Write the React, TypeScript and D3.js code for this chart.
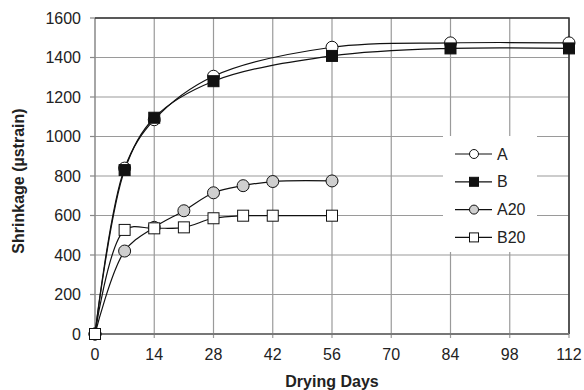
import { useRef, useEffect } from 'react';
import * as d3 from 'd3';

const days = [0, 7, 14, 28, 56, 84, 112];
const seriesA = [0, 840, 1085, 1305, 1452, 1474, 1474];
const seriesB = [0, 830, 1095, 1280, 1408, 1446, 1446];

const days20 = [0, 7, 14, 21, 28, 35, 42, 56];
const seriesA20 = [0, 420, 540, 624, 715, 751, 772, 775];
const seriesB20 = [0, 527, 535, 540, 586, 599, 599, 599];

const xTicks = [0, 14, 28, 42, 56, 70, 84, 98, 112];
const yTicks = [0, 200, 400, 600, 800, 1000, 1200, 1400, 1600];

const legendNames = ['A', 'B', 'A20', 'B20'];

export default function App() {
    const svgRef = useRef<SVGSVGElement>(null);

    useEffect(() => {
        if (!svgRef.current) return;
        const width = 584;
        const height = 390;
        const margin = { top: 18, right: 15, bottom: 56, left: 95 };

        d3.select(svgRef.current).selectAll('*').remove();
        const svg = d3.select(svgRef.current)
            .attr('width', width)
            .attr('height', height)
            .style('font-family', '"Liberation Sans", Arial, sans-serif');

        svg.append('rect').attr('width', width).attr('height', height).attr('fill', '#fff');

        const chartWidth = width - margin.left - margin.right;
        const chartHeight = height - margin.top - margin.bottom;

        const g = svg.append('g')
            .attr('transform', `translate(${margin.left},${margin.top})`);

        const x = d3.scaleLinear().domain([0, 112]).range([0, chartWidth]);
        const y = d3.scaleLinear().domain([0, 1600]).range([chartHeight, 0]);

        // Grid
        g.selectAll('.hgrid')
            .data(yTicks.slice(1))
            .enter()
            .append('line')
            .attr('x1', 0)
            .attr('x2', chartWidth)
            .attr('y1', d => y(d))
            .attr('y2', d => y(d))
            .attr('stroke', '#9a9a9a')
            .attr('stroke-width', 1.2);

        g.selectAll('.vgrid')
            .data(xTicks.slice(1))
            .enter()
            .append('line')
            .attr('x1', d => x(d))
            .attr('x2', d => x(d))
            .attr('y1', 0)
            .attr('y2', chartHeight + 4)
            .attr('stroke', '#9a9a9a')
            .attr('stroke-width', 1.2);

        // Y axis (left)
        g.append('line')
            .attr('x1', 0).attr('x2', 0)
            .attr('y1', 0).attr('y2', chartHeight)
            .attr('stroke', '#888')
            .attr('stroke-width', 1.5);
        g.selectAll('.ytick')
            .data(yTicks)
            .enter()
            .append('line')
            .attr('x1', -5).attr('x2', 0)
            .attr('y1', d => y(d)).attr('y2', d => y(d))
            .attr('stroke', '#888')
            .attr('stroke-width', 1.2);
        g.append('line')
            .attr('x1', 0).attr('x2', 0)
            .attr('y1', chartHeight).attr('y2', chartHeight + 4)
            .attr('stroke', '#888')
            .attr('stroke-width', 1.2);

        // Top + right border
        g.append('path')
            .attr('d', `M0,0H${chartWidth}V${chartHeight}`)
            .attr('fill', 'none')
            .attr('stroke', '#333')
            .attr('stroke-width', 1.5);

        // Bottom axis
        g.append('line')
            .attr('x1', 0).attr('x2', chartWidth)
            .attr('y1', chartHeight).attr('y2', chartHeight)
            .attr('stroke', '#777')
            .attr('stroke-width', 2);

        // Tick labels
        g.selectAll('.ylabel')
            .data(yTicks)
            .enter()
            .append('text')
            .attr('x', -14)
            .attr('y', d => y(d))
            .attr('text-anchor', 'end')
            .attr('dominant-baseline', 'central')
            .attr('fill', '#222')
            .style('font-size', '16px')
            .text(d => d);

        g.selectAll('.xlabel')
            .data(xTicks)
            .enter()
            .append('text')
            .attr('x', d => x(d))
            .attr('y', chartHeight + 20)
            .attr('text-anchor', 'middle')
            .attr('dominant-baseline', 'central')
            .attr('fill', '#222')
            .style('font-size', '16px')
            .text(d => d);

        // Axis titles
        svg.append('text')
            .attr('x', margin.left + chartWidth / 2)
            .attr('y', 387)
            .attr('text-anchor', 'middle')
            .attr('fill', '#222')
            .style('font-size', '16px')
            .style('font-weight', 'bold')
            .text('Drying Days');

        svg.append('text')
            .attr('transform', `translate(24,181) rotate(-90)`)
            .attr('text-anchor', 'middle')
            .attr('fill', '#222')
            .style('font-size', '16px')
            .style('font-weight', 'bold')
            .text('Shrinkage (µstrain)');

        // Series
        const series = [
            { name: 'A', xs: days, ys: seriesA, shape: 'circle', fill: '#fff' },
            { name: 'B', xs: days, ys: seriesB, shape: 'square', fill: '#111' },
            { name: 'A20', xs: days20, ys: seriesA20, shape: 'circle', fill: '#cfcfcf' },
            { name: 'B20', xs: days20, ys: seriesB20, shape: 'square', fill: '#fff' },
        ];

        const line = d3.line<[number, number]>()
            .x(d => x(d[0]))
            .y(d => y(d[1]))
            .curve(d3.curveCatmullRom.alpha(0.5));

        const drawMarker = (sel: d3.Selection<SVGGElement, unknown, null, undefined>, shape: string, fill: string, cx: number, cy: number, size: number) => {
            if (shape === 'circle') {
                sel.append('circle')
                    .attr('cx', cx).attr('cy', cy).attr('r', size / 2)
                    .attr('fill', fill).attr('stroke', '#111').attr('stroke-width', 1);
            } else {
                sel.append('rect')
                    .attr('x', cx - size / 2).attr('y', cy - size / 2)
                    .attr('width', size).attr('height', size)
                    .attr('fill', fill).attr('stroke', '#111').attr('stroke-width', 1);
            }
        };

        series.forEach(s => {
            const pts = s.xs.map((d, i) => [d, s.ys[i]] as [number, number]);
            g.append('path')
                .attr('d', line(pts))
                .attr('fill', 'none')
                .attr('stroke', '#111')
                .attr('stroke-width', 1.2);
        });

        series.forEach(s => {
            const mg = g.append('g');
            s.xs.forEach((d, i) => {
                drawMarker(mg, s.shape, s.fill, x(d), y(s.ys[i]), s.shape === 'circle' ? 12 : 11);
            });
        });

        // Legend
        const legend = svg.append('g');
        legend.append('rect')
            .attr('x', 443).attr('y', 136)
            .attr('width', 94).attr('height', 116)
            .attr('fill', '#fff');
        series.forEach((s, i) => {
            const ly = 154 + i * 27.8;
            legend.append('line')
                .attr('x1', 455).attr('x2', 492)
                .attr('y1', ly).attr('y2', ly)
                .attr('stroke', '#111').attr('stroke-width', 1.2);
            drawMarker(legend, s.shape, s.fill, 474, ly, 9);
            legend.append('text')
                .attr('x', 497)
                .attr('y', ly)
                .attr('dominant-baseline', 'central')
                .attr('fill', '#222')
                .style('font-size', '16px')
                .text(legendNames[i]);
        });
    }, []);

    return (
        <div style={{ position: 'absolute', left: 0, top: 0 }}>
            <svg ref={svgRef}></svg>
        </div>
    );
}
